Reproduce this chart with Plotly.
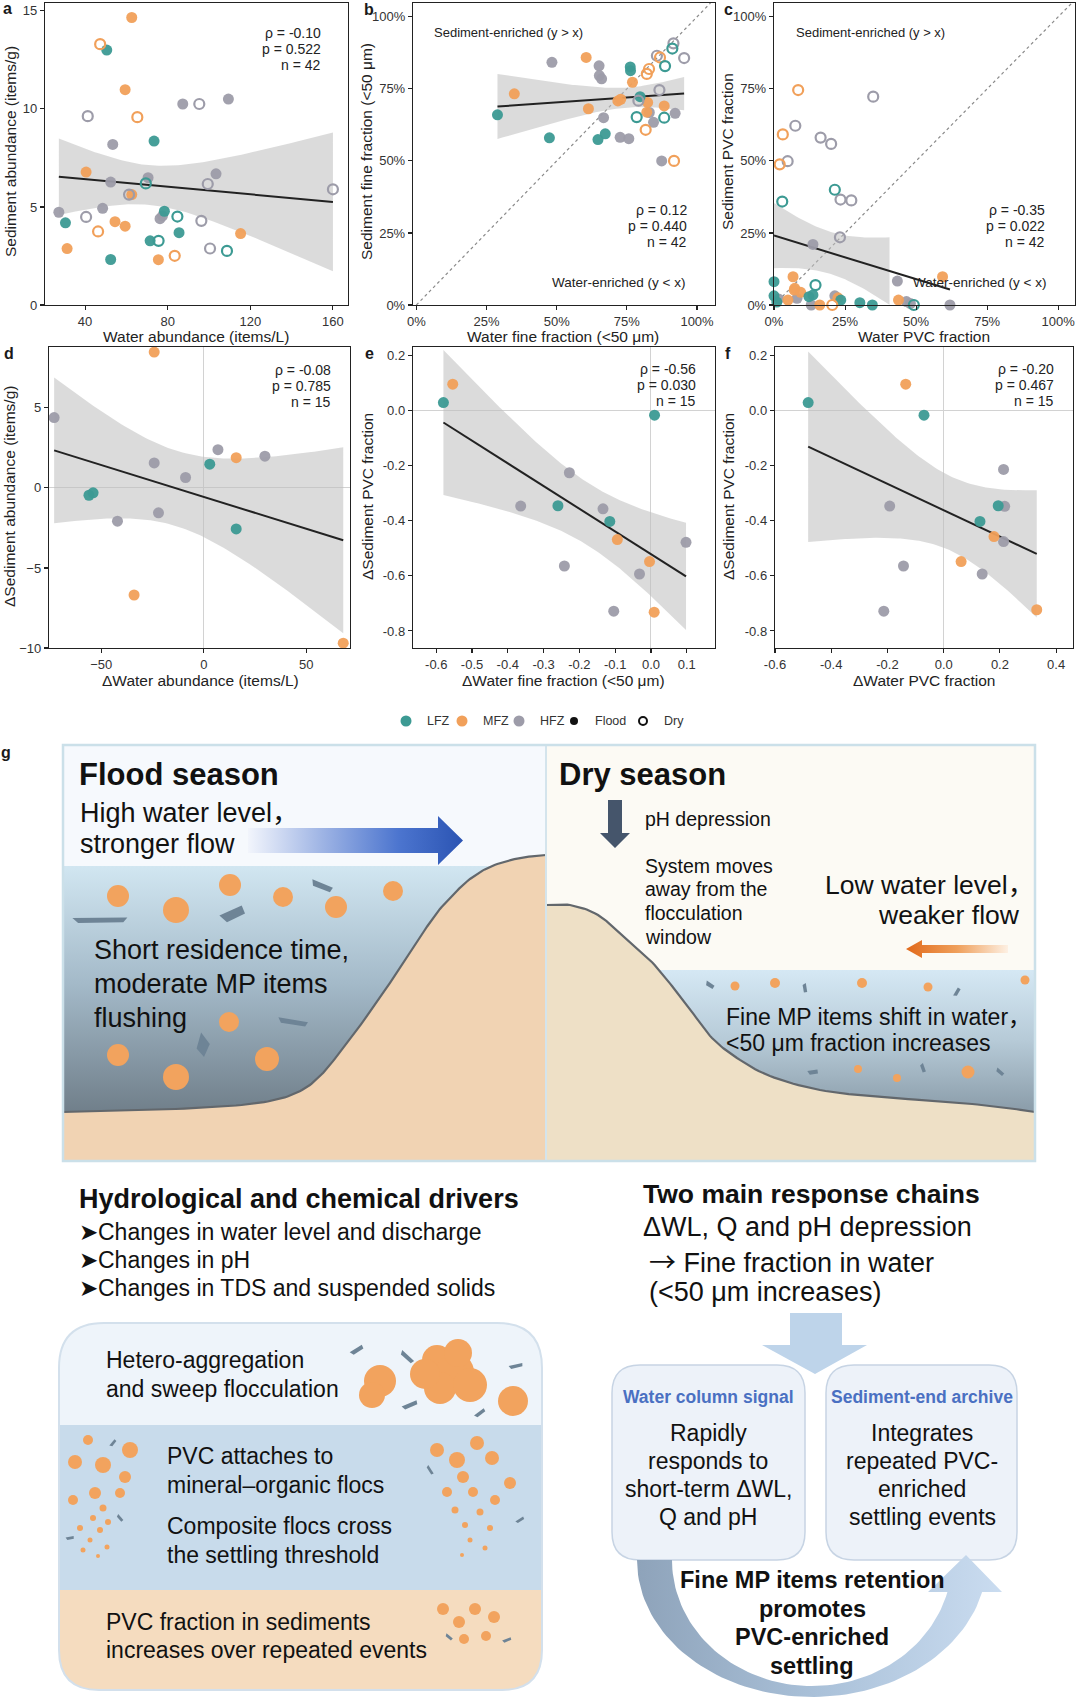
import numpy as np
import plotly.graph_objects as go

W, H = 1080, 1700
FONT = "Liberation Sans, Arial, sans-serif"
INK = "#1a1a1a"
ZONE_COLOR = {"L": "#3c9a93", "M": "#f1a05a", "H": "#9d9ca9"}
CJK = "<span style='font-family:Noto Sans CJK SC'>{}</span>"

# ---------------- data ----------------
# panel a : water vs sediment abundance
a_water = [62.6, 47.3, 50.5, 59.4, 87.3, 95.3, 109.4, 41.3, 65.3, 73.4,
           53.4, 40.5, 70.5, 69.4, 103.4, 99.4, 52.4, 61.3, 62.6, 27.3,
           48.5, 30.5, 40.5, 54.5, 59.4, 46.3, 76.3, 77.5, 78.4, 84.7,
           96.3, 85.5, 115.3, 71.5, 75.6, 31.3, 100.5, 108.7, 52.4, 75.5,
           83.4, 160.0]
a_sediment = [14.66, 13.30, 13.00, 10.98, 10.25, 10.25, 10.50, 9.63, 9.58, 8.36,
              8.19, 6.78, 6.49, 6.20, 6.69, 6.17, 6.27, 5.63, 5.63, 4.73,
              4.93, 4.19, 4.49, 4.25, 4.02, 3.75, 4.40, 4.55, 4.78, 4.51,
              4.29, 3.69, 3.64, 3.27, 3.27, 2.88, 2.88, 2.76, 2.32, 2.31,
              2.51, 5.90]
a_zone = "M M L M H H H H M L H M H L H H H H M H H L H M M M H H L L H L M L L M H L L M M H".split()
a_season = "F D F F F D F D D F F F F D F D F D F F F F D F F D F F F D D F F F D F D D F F D D".split()

# panel b : fine fraction (<50 um)
b_water = [0.289, 0.349, 0.483, 0.474, 0.605, 0.651, 0.652, 0.660, 0.613, 0.667,
           0.673, 0.647, 0.726, 0.757, 0.762, 0.763, 0.770, 0.718, 0.728, 0.797,
           0.791, 0.785, 0.824, 0.821, 0.845, 0.817, 0.829, 0.821, 0.857, 0.866,
           0.874, 0.918, 0.916, 0.912, 0.954, 0.868, 0.886, 0.883, 0.883, 0.922,
           0.830]
b_sediment = [0.660, 0.733, 0.842, 0.580, 0.859, 0.830, 0.796, 0.785, 0.681, 0.650,
              0.594, 0.574, 0.582, 0.577, 0.826, 0.813, 0.773, 0.708, 0.714, 0.723,
              0.709, 0.652, 0.703, 0.669, 0.634, 0.608, 0.819, 0.802, 0.865, 0.746,
              0.500, 0.500, 0.908, 0.890, 0.857, 0.859, 0.829, 0.691, 0.650, 0.665,
              0.668]
b_zone = "L M H L M H H H M H L L H H L L M M M L H L M M H M M M H H H M H L H M L M L H H".split()
b_season = "F F F F F F F F F F F F F F F F F F F F D D F F F D D D D D F D D D D D D F D F F".split()

# panel c : PVC fraction
c_water = [0.085, 0.349, 0.075, 0.031, 0.164, 0.201, 0.048, 0.020, 0.214, 0.234,
           0.272, 0.029, 0.232, 0.137, 0.593, 0.434, 0.000, 0.067, 0.146, 0.073,
           0.094, 0.000, 0.016, 0.081, 0.049, 0.123, 0.137, 0.131, 0.161, 0.205,
           0.214, 0.225, 0.235, 0.302, 0.346, 0.438, 0.466, 0.492, 0.619, 0.071,
           0.480, 0.010]
c_sediment = [0.746, 0.723, 0.622, 0.592, 0.581, 0.559, 0.499, 0.488, 0.400, 0.366,
              0.363, 0.359, 0.235, 0.210, 0.098, 0.083, 0.081, 0.098, 0.069, 0.058,
              0.044, 0.032, 0.021, 0.023, 0.017, 0.029, 0.035, 0.000, 0.000, 0.000,
              0.032, 0.025, 0.017, 0.008, 0.000, 0.017, 0.012, 0.000, 0.000, 0.052,
              0.005, 0.010]
c_zone = "M H H M H H H M L H H L H H M H L M L M M L H H M L L H M M H M L L L M H L H M H L".split()
c_season = "D D D D D D D D D D D D D F F F F F D F F F F F F F F F F D F F F F F F F D F F F F".split()

# panel d : delta abundance
d_water = [-73.0, -24.2, 6.9, 15.8, 29.8, -24.2, 2.9, -8.9, -56.0, -54.0, -22.1, -42.1, 15.8, -34.0, 68.0]
d_sediment = [4.39, 8.48, 2.39, 1.89, 1.98, 1.56, 1.48, 0.65, -0.46, -0.31, -1.56, -2.08, -2.56, -6.69, -9.70]
d_zone = "H M H M H H L H L L H H L M M".split()

# panel e : delta fine fraction vs delta sediment PVC
e_water = [-0.580, -0.554, 0.010, -0.228, -0.364, -0.260, -0.134, -0.115, -0.094, -0.242,
           -0.004, -0.032, -0.104, 0.009, 0.098]
e_sediment = [0.030, 0.097, -0.016, -0.225, -0.346, -0.345, -0.356, -0.402, -0.468, -0.564,
              -0.548, -0.593, -0.728, -0.732, -0.478]
e_zone = "L M L H H L H L M H M H H M H".split()

# panel f : delta water PVC vs delta sediment PVC
f_water = [-0.482, -0.135, -0.070, -0.192, 0.129, 0.194, 0.179, -0.143, 0.062, 0.137,
           -0.213, 0.213, 0.217, 0.213, 0.331]
f_sediment = [0.030, 0.097, -0.016, -0.346, -0.402, -0.345, -0.457, -0.564, -0.548, -0.593,
              -0.728, -0.213, -0.347, -0.475, -0.723]
f_zone = "L M L H L L M H M H H H H H M".split()

stat_rho = ["-0.10", "0.12", "-0.35", "-0.08", "-0.56", "-0.20"]
stat_p = ["0.522", "0.440", "0.022", "0.785", "0.030", "0.467"]
stat_n = ["42", "42", "42", "15", "15", "15"]

pct_ticks = [0, 0.25, 0.5, 0.75, 1.0]
pct_labels = ["0%", "25%", "50%", "75%", "100%"]
dpvc_ticks = [0.2, 0.0, -0.2, -0.4, -0.6, -0.8]
dpvc_labels = ["0.2", "0.0", "-0.2", "-0.4", "-0.6", "-0.8"]

fig = go.Figure()
shapes = []
annotations = []


def tcrit(dof):
    z = 1.959964
    return (z + (z**3 + z) / (4 * dof) + (5 * z**5 + 16 * z**3 + 3 * z) / (96 * dof**2)
            + (3 * z**7 + 19 * z**5 + 17 * z**3 - 15 * z) / (384 * dof**3))


def lm_fit(x, y, n=100):
    x = np.asarray(x, float)
    y = np.asarray(y, float)
    X = np.column_stack([np.ones_like(x), x])
    beta = np.linalg.lstsq(X, y, rcond=None)[0]
    res = y - X @ beta
    dof = len(x) - 2
    s2 = res @ res / dof
    cov = s2 * np.linalg.inv(X.T @ X)
    xs = np.linspace(x.min(), x.max(), n)
    Xs = np.column_stack([np.ones_like(xs), xs])
    fit = Xs @ beta
    se = np.sqrt(np.einsum("ij,jk,ik->i", Xs, cov, Xs))
    t = tcrit(dof)
    return xs, fit, fit - t * se, fit + t * se


def add_panel(xa, ya, x, y, zone, season=None, ylow=None):
    xs, fit, lo, hi = lm_fit(x, y)
    m = np.ones_like(xs, bool) if ylow is None else (lo >= ylow)
    bx, blo, bhi = xs[m], lo[m], hi[m]
    fig.add_trace(go.Scatter(x=np.concatenate([bx, bx[::-1]]), y=np.concatenate([bhi, blo[::-1]]),
                             fill="toself", fillcolor="rgba(190,190,190,0.55)", line=dict(width=0),
                             mode="lines", xaxis=xa, yaxis=ya, hoverinfo="skip", showlegend=False))
    fig.add_trace(go.Scatter(x=xs, y=fit, mode="lines", line=dict(color="#222222", width=2),
                             xaxis=xa, yaxis=ya, hoverinfo="skip", showlegend=False))
    x = np.asarray(x)
    y = np.asarray(y)
    zone = np.asarray(zone)
    season = np.asarray(season if season is not None else ["F"] * len(x))
    for s in ["F", "D"]:
        for z in ["H", "M", "L"]:
            k = (zone == z) & (season == s)
            if not k.any():
                continue
            if s == "F":
                mk = dict(size=11, color=ZONE_COLOR[z], line=dict(width=0), opacity=0.95)
            else:
                mk = dict(size=10, color=ZONE_COLOR[z], symbol="circle-open", line=dict(width=2.2))
            fig.add_trace(go.Scatter(x=x[k], y=y[k], mode="markers", marker=mk, xaxis=xa, yaxis=ya,
                                     cliponaxis=False, hoverinfo="skip", showlegend=False))


def text(x, y, s, size, anchor="left", bold=False, color=INK, angle=0, yanchor="middle"):
    if bold:
        s = "<b>" + s + "</b>"
    annotations.append(dict(x=x / W, y=1 - y / H, xref="paper", yref="paper", text=s, showarrow=False,
                            xanchor=anchor, yanchor=yanchor, textangle=angle,
                            font=dict(size=size, color=color, family=FONT)))


# ---------------- panels ----------------
add_panel("x", "y", a_water, a_sediment, a_zone, a_season)
add_panel("x2", "y2", b_water, b_sediment, b_zone, b_season)
add_panel("x3", "y3", c_water, c_sediment, c_zone, c_season, ylow=0.0)
add_panel("x4", "y4", d_water, d_sediment, d_zone)
add_panel("x5", "y5", e_water, e_sediment, e_zone)
add_panel("x6", "y6", f_water, f_sediment, f_zone)

AX = dict(showline=True, linecolor="#222222", linewidth=1.2, mirror=True, ticks="outside", ticklen=4,
          tickwidth=1.1, tickcolor="#222222", showgrid=False, zeroline=False, automargin=False,
          tickfont=dict(size=13, color="#333333", family=FONT))
ZL = dict(zeroline=True, zerolinecolor="#d2d2d2", zerolinewidth=1)

panels = [
    # (xpx, ypx, xrange, yrange, xticks, xlabels, yticks, ylabels, zero)
    ((45, 348), (3, 305), [20.6, 167.3], [0, 15.4], [40, 80, 120, 160], None, [0, 5, 10, 15], None, False),
    ((413, 715), (3, 305), [-0.012, 1.064], [0, 1.048], pct_ticks, pct_labels, pct_ticks, pct_labels, False),
    ((774, 1075), (3, 305), [0, 1.059], [0, 1.048], pct_ticks, pct_labels, pct_ticks, pct_labels, False),
    ((49, 350), (347, 648), [-75.5, 71.3], [-10, 8.8], [-50, 0, 50], None, [-10, -5, 0, 5], None, True),
    ((413, 715), (347, 648), [-0.665, 0.179], [-0.862, 0.232],
     [-0.6, -0.5, -0.4, -0.3, -0.2, -0.1, 0.0, 0.1],
     ["-0.6", "-0.5", "-0.4", "-0.3", "-0.2", "-0.1", "0.0", "0.1"], dpvc_ticks, dpvc_labels, True),
    ((775, 1073), (347, 648), [-0.6, 0.46], [-0.862, 0.232],
     [-0.6, -0.4, -0.2, 0.0, 0.2, 0.4], ["-0.6", "-0.4", "-0.2", "0.0", "0.2", "0.4"],
     dpvc_ticks, dpvc_labels, True),
]
lay = {}
for i, (xp, yp, xr, yr, xt, xl, yt, yl, zero) in enumerate(panels, start=1):
    sfx = "" if i == 1 else str(i)
    xd = dict(AX, domain=[xp[0] / W, xp[1] / W], range=xr, anchor="y" + sfx, tickvals=xt)
    yd = dict(AX, domain=[1 - yp[1] / H, 1 - yp[0] / H], range=yr, anchor="x" + sfx, tickvals=yt)
    if xl:
        xd["ticktext"] = xl
    if yl:
        yd["ticktext"] = yl
    if zero:
        xd.update(ZL)
        yd.update(ZL)
    lay["xaxis" + sfx] = xd
    lay["yaxis" + sfx] = yd

# overlay axis for the schematic (pixel units, y downwards)
lay["xaxis7"] = dict(domain=[0, 1], range=[0, W], visible=False, anchor="y7", fixedrange=True, automargin=False)
lay["yaxis7"] = dict(domain=[0, 1 - 700 / H], range=[H, 700], visible=False, anchor="x7", fixedrange=True,
                     automargin=False)

# y = x reference lines
for xr_, yr_ in (("x2", "y2"), ("x3", "y3")):
    shapes.append(dict(type="line", xref=xr_, yref=yr_, x0=0, y0=0, x1=1.048, y1=1.048,
                       line=dict(color="#8a8a8a", width=1.2, dash="dot"), layer="below"))

# panel texts
for lab, x, y in (("a", 7, 9), ("b", 369, 10), ("c", 728, 10), ("d", 9, 353), ("e", 369, 353), ("f", 728, 353)):
    text(x, y, lab, 16, anchor="center", bold=True)
stat_pos = [(323, 33), (689, 210), (1047, 210), (333, 370), (698, 369), (1056, 369)]
for (x, y), r, p, n in zip(stat_pos, stat_rho, stat_p, stat_n):
    text(x, y, "ρ = " + r, 14, anchor="right", color="#222")
    text(x, y + 16, "p = " + p, 14, anchor="right", color="#222")
    text(x, y + 32, "n = " + n, 14, anchor="right", color="#222")
text(508, 33, "Sediment-enriched (y > x)", 13, anchor="center", color="#222")
text(618, 282, "Water-enriched (y < x)", 13.5, anchor="center", color="#222")
text(870, 33, "Sediment-enriched (y > x)", 13, anchor="center", color="#222")
text(979, 282, "Water-enriched (y < x)", 13.5, anchor="center", color="#222")

text(196, 336, "Water abundance (items/L)", 15.5, anchor="center", color="#222")
text(563, 336, "Water fine fraction (<50 μm)", 15.5, anchor="center", color="#222")
text(924, 336, "Water PVC fraction", 15.5, anchor="center", color="#222")
text(200, 680, "ΔWater abundance (items/L)", 15.5, anchor="center", color="#222")
text(563, 680, "ΔWater fine fraction (<50 μm)", 15.5, anchor="center", color="#222")
text(924, 680, "ΔWater PVC fraction", 15.5, anchor="center", color="#222")
text(11, 152, "Sediment abundance (items/g)", 15.5, anchor="center", angle=-90, color="#222")
text(367, 152, "Sediment fine fraction (<50 μm)", 15.5, anchor="center", angle=-90, color="#222")
text(728, 152, "Sediment PVC fraction", 15.5, anchor="center", angle=-90, color="#222")
text(9, 497, "ΔSediment abundance (items/g)", 15.5, anchor="center", angle=-90, color="#222")
text(367, 497, "ΔSediment PVC fraction", 15.5, anchor="center", angle=-90, color="#222")
text(728, 497, "ΔSediment PVC fraction", 15.5, anchor="center", angle=-90, color="#222")

# ---------------- legend ----------------
def circ(cx, cy, r, fill, layer="above", line=None):
    shapes.append(dict(type="circle", xref="x7", yref="y7", x0=cx - r, x1=cx + r, y0=cy - r, y1=cy + r,
                       fillcolor=fill, line=line or dict(width=0), layer=layer))


LY = 721
circ(406, LY, 5.5, ZONE_COLOR["L"])
circ(462, LY, 5.5, ZONE_COLOR["M"])
circ(519, LY, 5.5, ZONE_COLOR["H"])
circ(574, LY, 4, "#111111")
circ(643, LY, 4, "rgba(0,0,0,0)", line=dict(color="#111111", width=2))
for s, x in (("LFZ", 425), ("MFZ", 481), ("HFZ", 538), ("Flood", 593), ("Dry", 662)):
    text(x, LY, s, 12.5, color="#333")

# ---------------- schematic g ----------------
def poly_trace(pts, fill=None, grad=None, line=None):
    pts = np.asarray(pts, float)
    kw = dict(x=pts[:, 0], y=pts[:, 1], xaxis="x7", yaxis="y7", mode="lines", fill="toself",
              hoverinfo="skip", showlegend=False, line=line or dict(width=0))
    if grad is not None:
        kw["fillgradient"] = grad
        kw["fillcolor"] = grad["colorscale"][0][1]
    else:
        kw["fillcolor"] = fill
    fig.add_trace(go.Scatter(**kw))


def line_trace(pts, color, width):
    pts = np.asarray(pts, float)
    fig.add_trace(go.Scatter(x=pts[:, 0], y=pts[:, 1], xaxis="x7", yaxis="y7", mode="lines",
                             line=dict(color=color, width=width), hoverinfo="skip", showlegend=False))


def smooth(pts, n=10):
    P = np.asarray(pts, float)
    P = np.vstack([P[0], P, P[-1]])
    out = []
    for i in range(1, len(P) - 2):
        p0, p1, p2, p3 = P[i - 1], P[i], P[i + 1], P[i + 2]
        for t in np.linspace(0, 1, n, endpoint=False):
            out.append(0.5 * (2 * p1 + (-p0 + p2) * t + (2 * p0 - 5 * p1 + 4 * p2 - p3) * t * t
                              + (-p0 + 3 * p1 - 3 * p2 + p3) * t ** 3))
    out.append(P[-2])
    return np.array(out)


def rect(x0, y0, x1, y1, fill, layer="below", line=None):
    shapes.append(dict(type="rect", xref="x7", yref="y7", x0=x0, y0=y0, x1=x1, y1=y1, fillcolor=fill,
                       line=line or dict(width=0), layer=layer))


def path(d, fill, layer="above", line=None):
    shapes.append(dict(type="path", xref="x7", yref="y7", path=d, fillcolor=fill,
                       line=line or dict(width=0), layer=layer))


def rr_path(x0, y0, x1, y1, rt, rb):
    return (f"M {x0 + rt},{y0} L {x1 - rt},{y0} Q {x1},{y0} {x1},{y0 + rt} "
            f"L {x1},{y1 - rb} Q {x1},{y1} {x1 - rb},{y1} L {x0 + rb},{y1} Q {x0},{y1} {x0},{y1 - rb} "
            f"L {x0},{y0 + rt} Q {x0},{y0} {x0 + rt},{y0} Z")


def flake(cx, cy, L, Wd, ang, color="#6e8496"):
    a = np.deg2rad(ang)
    base = np.array([(-L / 2, -Wd / 2), (L / 2, -Wd * 0.15), (L * 0.42, Wd / 2), (-L * 0.4, Wd * 0.25)])
    R = np.array([[np.cos(a), -np.sin(a)], [np.sin(a), np.cos(a)]])
    pts = base @ R.T + np.array([cx, cy])
    d = "M " + " L ".join(f"{x:.1f},{y:.1f}" for x, y in pts) + " Z"
    path(d, color)


ORANGE = "#f2a35e"
# ---- flood panel
GX0, GX1, GXM, GY0, GY1 = 63, 1035, 546, 745, 1161
rect(GX0, GY0, GXM, 866, "#f6f9fd")
rect(GXM, GY0, GX1, 970, "#fcfaf4")
poly_trace([(GX0, 866), (GXM, 866), (GXM, GY1), (GX0, GY1)],
           grad=dict(type="vertical", start=866, stop=1125,
                     colorscale=[[0, "#d1e6f1"], [0.45, "#a4bac9"], [1, "#6b7984"]]))
flood_bank = smooth([(63, 1112), (150, 1110), (230, 1106), (275, 1100), (302, 1090), (320, 1076),
                     (337, 1056), (367, 1016), (400, 968), (433, 918), (452, 896), (470, 879),
                     (492, 866), (520, 858), (546, 855)])
poly_trace(np.vstack([flood_bank, [(546, GY1), (63, GY1)]]), fill="#f1d3b3")
line_trace(flood_bank, "#62676c", 2.2)
# blue flow arrow
poly_trace([(248, 828), (438, 828), (438, 816), (463, 840.5), (438, 865), (438, 853), (248, 853)],
           grad=dict(type="horizontal", start=248, stop=463,
                     colorscale=[[0, "#f2f5fc"], [0.35, "#9db3e4"], [0.7, "#4c75cf"], [1, "#2b54b3"]]))
for cx, cy, r in [(118, 896, 11), (176, 910, 13), (230, 885, 11), (283, 897, 10), (336, 907, 11),
                  (393, 891, 10), (229, 1022, 10), (118, 1055, 11), (267, 1059, 12), (176, 1077, 13)]:
    circ(cx, cy, r, ORANGE)
for f_ in [(100, 920, 55, 7, -3), (233, 914, 24, 13, -35), (322, 886, 22, 8, 15), (293, 1022, 30, 7, 5),
           (203, 1045, 12, 22, 20)]:
    flake(*f_)

# ---- dry panel
poly_trace([(640, 970), (GX1, 970), (GX1, GY1), (640, GY1)],
           grad=dict(type="vertical", start=970, stop=1112,
                     colorscale=[[0, "#d5e8f4"], [0.5, "#b6cad7"], [1, "#8a9ca9"]]))
dry_bank = smooth([(546, 905), (570, 905), (598, 915), (625, 938), (650, 960), (672, 986), (692, 1012),
                   (712, 1038), (737, 1058), (770, 1076), (820, 1090), (880, 1097), (950, 1102),
                   (1000, 1107), (1035, 1112)])
poly_trace(np.vstack([dry_bank, [(GX1, GY1), (546, GY1)]]), fill="#eee0c6")
line_trace(dry_bank, "#62676c", 2.2)
poly_trace([(906, 949), (922, 940), (922, 945), (1008, 945), (1008, 953), (922, 953), (922, 958)],
           grad=dict(type="horizontal", start=906, stop=1008,
                     colorscale=[[0, "#e1691a"], [0.5, "#ef9f5b"], [1, "#fdf0e3"]]))
for cx, cy, r in [(735, 986, 4.5), (775, 983, 5), (862, 983, 5), (928, 987, 4.5), (1025, 980, 4.5),
                  (858, 1069, 4), (897, 1078, 4), (968, 1072, 6.5)]:
    circ(cx, cy, r, ORANGE)
for f_ in [(710, 985, 9, 6, 20), (805, 988, 9, 5, 70), (957, 992, 9, 5, -70), (813, 1072, 10, 6, -20),
           (923, 1068, 9, 5, 60), (1000, 1072, 9, 5, 30)]:
    flake(*f_)
path("M 608,800 L 622,800 L 622,833 L 630,833 L 615,848 L 600,833 L 608,833 Z", "#45556b")
# frame of the season panels
shapes.append(dict(type="line", xref="x7", yref="y7", x0=GXM, x1=GXM, y0=GY0, y1=GY1,
                   line=dict(color="#d4e4ec", width=2), layer="above"))
rect(GX0, GY0, GX1, GY1, "rgba(0,0,0,0)", layer="above", line=dict(color="#cbe0e9", width=2.5))

text(6, 753, "g", 16, bold=True, anchor="center")
text(77, 775, "Flood season", 31, bold=True, color="#111")
text(78, 810, "High water level" + CJK.format("，"), 27, color="#111")
text(78, 844, "stronger flow", 27, color="#111")
text(92, 950, "Short residence time,", 27, color="#111")
text(92, 984, "moderate MP items", 27, color="#111")
text(92, 1018, "flushing", 27, color="#111")
text(557, 775, "Dry season", 31, bold=True, color="#111")
text(643, 819, "pH depression", 19.5, color="#111")
for k, s in enumerate(["System moves", "away from the", "flocculation", "window"]):
    text(643, 866 + 23.5 * k, s, 19.5, color="#111")
text(1036, 882, "Low water level" + CJK.format("，"), 26.5, anchor="right", color="#111")
text(1022, 915, "weaker flow", 26.5, anchor="right", color="#111")
text(724, 1015, "Fine MP items shift in water" + CJK.format("，"), 23, color="#111")
text(724, 1043, "<50 μm fraction increases", 23, color="#111")

# ---- bottom left mechanism box
BX0, BX1 = 59, 542
path(rr_path(BX0, 1323, BX1, 1426, 45, 0), "#eef4fa", layer="below")
rect(BX0, 1425, BX1, 1591, "#c8dbeb")
path(rr_path(BX0, 1590, BX1, 1690, 0, 40), "#f5dcbf", layer="below")
path(rr_path(BX0, 1323, BX1, 1690, 45, 40), "rgba(0,0,0,0)", layer="above",
     line=dict(color="#d3e0ec", width=2))
for cx, cy, r in [(380, 1381, 16), (372, 1395, 13), (437, 1360, 15), (455, 1372, 19), (440, 1388, 16),
                  (470, 1385, 17), (425, 1374, 15), (458, 1353, 14), (513, 1401, 15)]:
    circ(cx, cy, r, ORANGE)
for f_ in [(357, 1350, 14, 6, -40), (407, 1357, 16, 6, 35), (410, 1405, 16, 6, -30), (480, 1413, 12, 5, -45),
           (516, 1366, 14, 5, -20)]:
    flake(*f_)
for cx, cy, r in [(88, 1440, 5), (130, 1450, 8), (75, 1462, 7), (103, 1465, 8), (125, 1477, 6),
                  (95, 1493, 6), (120, 1493, 5), (73, 1500, 5), (103, 1508, 3.5), (93, 1518, 3),
                  (108, 1522, 3), (80, 1528, 3), (100, 1530, 3), (90, 1540, 2.5), (107, 1547, 2.5),
                  (83, 1550, 2.5), (98, 1556, 2),
                  (437, 1450, 7), (457, 1460, 8), (477, 1443, 7), (492, 1458, 7), (510, 1483, 6),
                  (463, 1477, 6), (447, 1492, 5), (473, 1492, 5), (495, 1500, 5), (455, 1510, 3.5),
                  (480, 1512, 3.5), (465, 1525, 3), (490, 1528, 3), (470, 1540, 2.5), (485, 1548, 2.5),
                  (462, 1555, 2),
                  (443, 1609, 6), (459, 1622, 6), (475, 1609, 6), (494, 1617, 6), (486, 1636, 5),
                  (464, 1639, 5)]:
    circ(cx, cy, r, ORANGE)
for f_ in [(113, 1443, 8, 4, -60), (120, 1518, 8, 4, 40), (70, 1538, 8, 4, -20), (430, 1470, 10, 4, 50),
           (520, 1520, 9, 4, -40), (449, 1637, 8, 4, 30), (507, 1640, 9, 4, -30)]:
    flake(*f_)

text(77, 1199, "Hydrological and chemical drivers", 27, bold=True, color="#111")
for k, s in enumerate(["Changes in water level and discharge", "Changes in pH",
                       "Changes in TDS and suspended solids"]):
    text(77, 1232 + 28 * k, "➤" + s, 23, color="#111")
text(104, 1360, "Hetero-aggregation", 23, color="#111")
text(104, 1389, "and sweep flocculation", 23, color="#111")
text(165, 1456, "PVC attaches to", 23, color="#111")
text(165, 1485, "mineral–organic flocs", 23, color="#111")
text(165, 1526, "Composite flocs cross", 23, color="#111")
text(165, 1555, "the settling threshold", 23, color="#111")
text(104, 1622, "PVC fraction in sediments", 23, color="#111")
text(104, 1650, "increases over repeated events", 23, color="#111")

# ---- right: response chains
text(811, 1194, "Two main response chains", 26.5, bold=True, anchor="center", color="#111")
text(641, 1227, "ΔWL, Q and pH depression", 27, color="#111")
text(647, 1260, CJK.format("→") + " Fine fraction in water", 27, color="#111")
text(647, 1292, "(<50 μm increases)", 27, color="#111")
path("M 790,1313 L 842,1313 L 842,1345 L 867,1345 L 815,1374 L 762,1345 L 790,1345 Z", "#bed4ea",
     layer="below")
path(rr_path(612, 1365, 805, 1560, 28, 28), "#edf2f9", layer="below", line=dict(color="#c7d4e4", width=1.5))
path(rr_path(826, 1365, 1017, 1560, 28, 28), "#edf2f9", layer="below", line=dict(color="#c7d4e4", width=1.5))
text(708, 1397, "Water column signal", 17.5, bold=True, anchor="center", color="#4a70c2")
text(922, 1397, "Sediment-end archive", 17.5, bold=True, anchor="center", color="#4a70c2")
for k, (s1, s2) in enumerate(zip(["Rapidly", "responds to", "short-term ΔWL,", "Q and pH"],
                                 ["Integrates", "repeated PVC-", "enriched", "settling events"])):
    text(708, 1433 + 28 * k, s1, 23, anchor="center", color="#111")
    text(922, 1433 + 28 * k, s2, 23, anchor="center", color="#111")

# curved return arrow
cx, cy = 812, 1560
to_end = np.arcsin(32 / 137.0)
ti_end = np.arcsin(32 / 126.0)
to = np.linspace(np.pi, to_end, 80)
ti = np.linspace(ti_end, np.pi, 80)
outer = np.column_stack([cx + 175 * np.cos(to), cy + 137 * np.sin(to)])
inner = np.column_stack([cx + 140 * np.cos(ti), cy + 126 * np.sin(ti)])
head = np.array([(1002, 1592), (966, 1555), (928, 1592)])
poly_trace(np.vstack([outer, head, inner]),
           grad=dict(type="horizontal", start=637, stop=1002,
                     colorscale=[[0, "#8ea3ba"], [0.5, "#aac1d9"], [1, "#cadcf0"]]))
for k, s in enumerate(["Fine MP items retention", "promotes", "PVC-enriched", "settling"]):
    text(812, 1580 + 28.5 * k, s, 23.5, bold=True, anchor="center", color="#111")

fig.update_layout(
    width=W, height=H, margin=dict(l=0, r=0, t=0, b=0, autoexpand=False),
    paper_bgcolor="white", plot_bgcolor="white", showlegend=False,
    font=dict(family=FONT, color=INK),
    shapes=shapes, annotations=annotations, **lay,
)
fig.write_html("out.html", config={"displayModeBar": False, "staticPlot": True},
               post_script="document.body.style.margin='0px';document.body.style.overflow='hidden';")
